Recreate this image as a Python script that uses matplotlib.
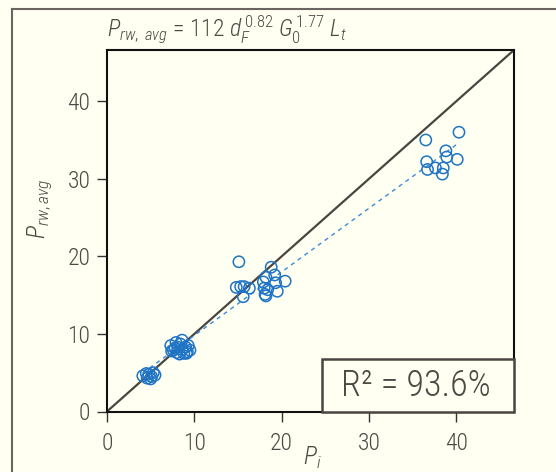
import matplotlib
matplotlib.use("Agg")
import matplotlib.pyplot as plt
from matplotlib import font_manager
from matplotlib.lines import Line2D
from matplotlib.patches import Rectangle

# ---------------- data ----------------
p_i = [36.5, 40.3, 38.8, 38.9, 40.1, 36.6, 36.7, 37.6, 38.5, 38.4,
       15.1, 18.8, 19.2, 18.2, 17.9, 19.3, 20.4, 14.8, 15.3, 15.7, 16.3, 18.0, 18.4, 19.5, 18.1, 15.6, 18.2,
       7.3, 7.6, 8.0, 8.3, 8.4, 8.6, 9.0, 9.2, 9.3, 7.4, 8.1, 8.8, 9.5, 7.9, 8.6, 9.1, 7.8,
       4.1, 4.6, 4.8, 5.1, 5.3, 5.5, 5.0, 4.5]
p_rw = [35.0, 36.0, 33.6, 32.8, 32.5, 32.2, 31.2, 31.4, 31.4, 30.6,
        19.3, 18.6, 17.6, 17.3, 16.7, 16.6, 16.8, 16.0, 16.1, 16.1, 15.9, 15.9, 15.7, 15.5, 15.1, 14.8, 14.9,
        8.5, 7.9, 7.6, 7.4, 8.7, 9.2, 8.3, 7.7, 8.5, 7.8, 8.3, 7.5, 7.9, 8.9, 8.0, 7.5, 8.2,
        4.6, 4.3, 4.8, 4.5, 5.0, 4.7, 4.2, 4.9]
fit_slope = 0.82
fit_intercept = 1.6
fit_x_range = [4.1, 40.0]
x_ticks = [0, 10, 20, 30, 40]
y_ticks = [0, 10, 20, 30, 40]
r2_text = "R² = 93.6%"
title_text = r"$P_{rw,\ avg}$ = 112 $d_F^{\,0.82}$ $G_0^{\,1.77}$ $L_t$"

# ---------------- fonts ----------------
fl = font_manager.fontManager.ttflist
avail = {f.name for f in fl}
fam = "Liberation Sans"
for cand in ["Roboto Condensed", "Liberation Sans Narrow", "Open Sans Condensed",
             "DejaVu Sans Condensed", "Liberation Sans"]:
    if cand in avail:
        fam = cand
        break
has_light = any(f.name == fam and f.weight in (300, "light") for f in fl)
wt = "light" if has_light else "normal"
plt.rcParams["font.family"] = [fam, "DejaVu Sans"]
plt.rcParams["font.weight"] = wt
plt.rcParams["mathtext.fontset"] = "custom"
plt.rcParams["mathtext.rm"] = fam + (":light" if has_light else "")
plt.rcParams["mathtext.it"] = fam + ":italic" + (":light" if has_light else "")
plt.rcParams["mathtext.bf"] = fam + ":bold"

bg = "#fffff2"
txt = "#4d4843"
blue = "#1f74c6"

fig = plt.figure(figsize=(5.56, 4.72), dpi=100, facecolor=bg)
ax = fig.add_axes([107/556, 1-411.5/472, 407/556, 361.5/472])
ax.set_facecolor(bg)

lim = 46.6
ax.set_xlim(0, lim)
ax.set_ylim(0, lim)

# 1:1 line
ax.plot([0, lim], [0, lim], color="#4a4540", lw=1.6, zorder=2)
# fitted line
fx = fit_x_range
fy = [fit_slope*v + fit_intercept for v in fx]
ax.plot(fx, fy, color="#3b8ad8", lw=1.0, ls=(0, (3, 3)), zorder=2)
# points
ax.scatter(p_i, p_rw, s=66, facecolors="none", edgecolors=blue, linewidths=1.1, zorder=3)

ax.set_xticks(x_ticks)
ax.set_yticks(y_ticks)
ax.tick_params(direction="out", length=7, width=1, color="#333333",
               labelcolor=txt, labelsize=17)
ax.tick_params(axis="x", pad=8)
ax.tick_params(axis="y", pad=5)
for s in ax.spines.values():
    s.set_linewidth(1.5)
    s.set_color("#111111")

ax.set_ylabel(r"$P_{rw,avg}$", fontsize=18, color=txt)
ax.yaxis.set_label_coords(-0.13, 0.56)
ax.text(312/556, 1-458/472, r"$P_i$", transform=fig.transFigure, fontsize=18,
        color=txt, ha="center", va="center")

# title
fig.text(107/556, 1-30/472, title_text, fontsize=17, color=txt, ha="left", va="center")

# R2 box
rect = Rectangle((322/556, 1-412/472), (514-322)/556, (412-359)/472,
                 transform=fig.transFigure, facecolor=bg, edgecolor="#4a4540",
                 lw=1.8, zorder=10)
fig.add_artist(rect)
fig.text(416/556, 1-386/472, r2_text, fontsize=26, color=txt, ha="center",
         va="center", zorder=11)

# outer frame
fig.add_artist(Line2D([12/556, 12/556], [0, 1-9/472], transform=fig.transFigure,
                      color="#6b6560", lw=1.5))
fig.add_artist(Line2D([12/556, 1], [1-9/472, 1-9/472], transform=fig.transFigure,
                      color="#6b6560", lw=1.5))

fig.savefig("out.png", dpi=100, facecolor=bg)
